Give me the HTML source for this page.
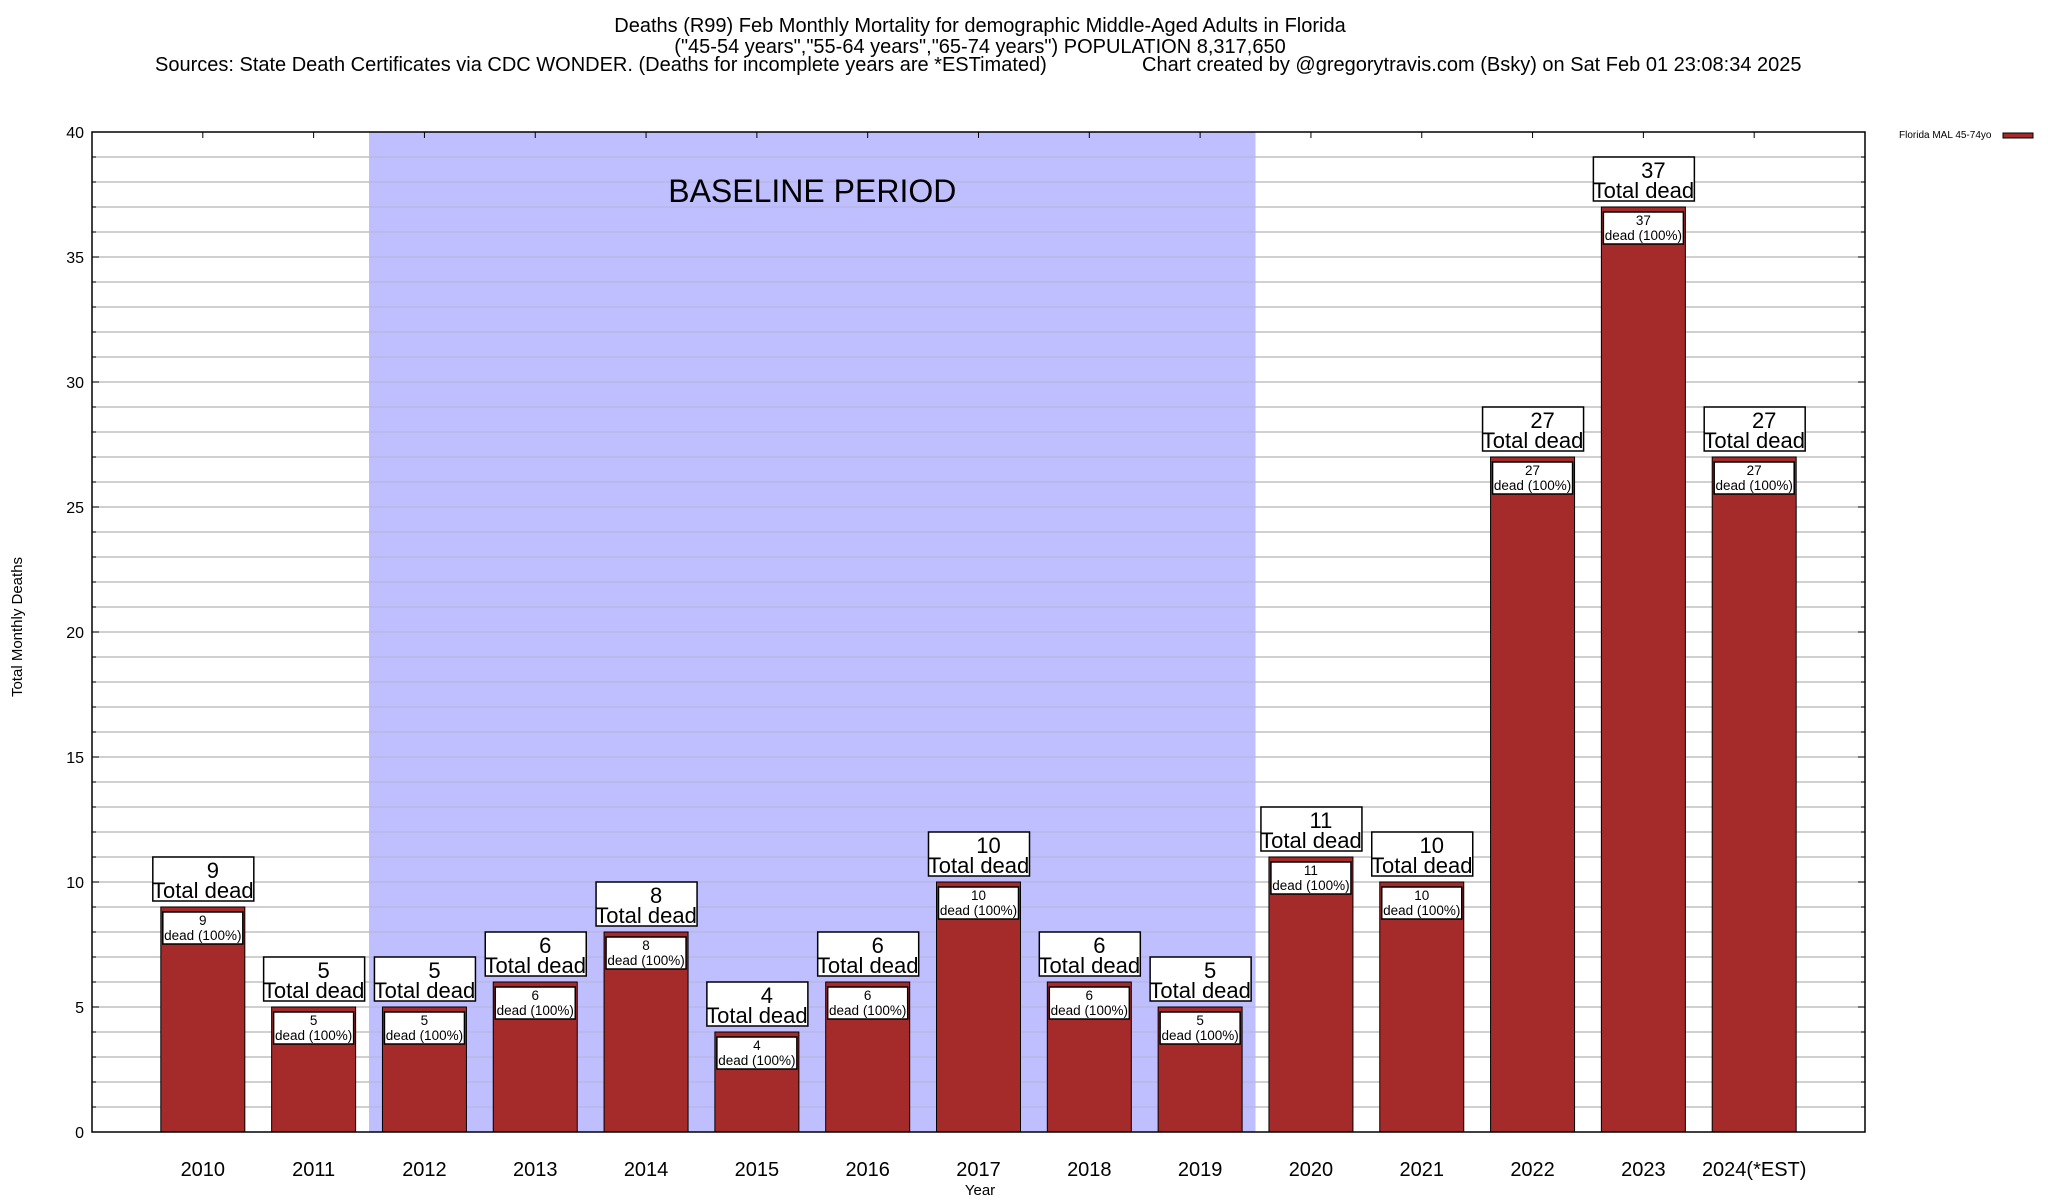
<!DOCTYPE html>
<html><head><meta charset="utf-8"><style>
html,body{margin:0;padding:0;background:#fff;}
svg{display:block;font-family:"Liberation Sans",sans-serif;}
</style></head><body>
<svg id="chart" width="2048" height="1200" viewBox="0 0 2048 1200" xmlns="http://www.w3.org/2000/svg">
<g font-size="20" fill="#000">
<text x="980" y="32" text-anchor="middle">Deaths (R99) Feb Monthly Mortality for demographic Middle-Aged Adults in Florida</text>
<text x="980" y="53" text-anchor="middle">("45-54 years","55-64 years","65-74 years") POPULATION 8,317,650</text>
<text x="155" y="71">Sources: State Death Certificates via CDC WONDER. (Deaths for incomplete years are *ESTimated)</text>
<text x="1142" y="71">Chart created by @gregorytravis.com (Bsky) on Sat Feb 01 23:08:34 2025</text>
</g>
<g id="grid"></g>
<rect id="baseline" fill="#bfbfff"/>
<g id="grid2"></g>
<text id="baselineLabel" font-size="32" text-anchor="middle">BASELINE PERIOD</text>
<g id="yaxis"></g>
<g id="bars"></g>
<g id="xaxis"></g>
<rect id="frame" fill="none" stroke="#000" stroke-width="1.5"/>
<text x="980" y="1195" font-size="15" text-anchor="middle">Year</text>
<text x="22" y="627" font-size="15" text-anchor="middle" transform="rotate(-90 22 627)">Total Monthly Deaths</text>
<g>
<text x="1899" y="138" font-size="10">Florida MAL 45-74yo</text>
<rect x="2003" y="133" width="30" height="5" fill="#a52a2a" stroke="#000" stroke-width="1"/>
</g>
</svg>
<script>
const years = ["2010","2011","2012","2013","2014","2015","2016","2017","2018","2019","2020","2021","2022","2023","2024(*EST)"];
const deaths = [9,5,5,6,8,4,6,10,6,5,11,10,27,37,27];
const yTicks = [0,5,10,15,20,25,30,35,40];
const baselineStart = 2; // index 2012
const baselineEnd = 9;   // index 2019

const NS="http://www.w3.org/2000/svg";
const L=92,R=1865,T=132,B=1132,yMax=40;
const slot=(R-L)/(years.length+1);
function X(i){return L+slot*(i+1);}
function Y(v){return B-(B-T)*v/yMax;}
function mk(tag,attrs,parent){const e=document.createElementNS(NS,tag);for(const k in attrs)e.setAttribute(k,attrs[k]);parent.appendChild(e);return e;}

const frame=document.getElementById('frame');
frame.setAttribute('x',L);frame.setAttribute('y',T);frame.setAttribute('width',R-L);frame.setAttribute('height',B-T);

const grid=document.getElementById('grid');
for(let v=1;v<yMax;v++){
  const l=mk('line',{x1:L,x2:R,y1:Y(v),y2:Y(v),stroke:'#b4b4b4','stroke-width':1.2},grid);
  
  
}
const band=document.getElementById('baseline');
const bx0=(X(baselineStart-1)+X(baselineStart))/2, bx1=(X(baselineEnd)+X(baselineEnd+1))/2;
band.setAttribute('x',bx0);band.setAttribute('y',T);band.setAttribute('width',bx1-bx0);band.setAttribute('height',B-T);
const grid2=document.getElementById('grid2');
for(let v=1;v<yMax;v++){
  const l=mk('line',{x1:bx0,x2:bx1,y1:Y(v),y2:Y(v),stroke:'#b4b4c8','stroke-width':1.2,opacity:0.6},grid2);
  
  
}
const bl=document.getElementById('baselineLabel');
bl.setAttribute('x',(bx0+bx1)/2);bl.setAttribute('y',Y(37.2));

const ya=document.getElementById('yaxis');
yTicks.forEach(v=>{
  const t=mk('text',{x:L-8,y:Y(v)+6,'font-size':16,'text-anchor':'end'},ya);t.textContent=v;
  
  
});
for(let v=1;v<yMax;v++){
  mk('line',{x1:L,x2:L+(v%5?4:7),y1:Y(v),y2:Y(v),stroke:'#000','stroke-width':1},ya);
  mk('line',{x1:R,x2:R-(v%5?4:7),y1:Y(v),y2:Y(v),stroke:'#000','stroke-width':1},ya);
}

const bars=document.getElementById('bars');
const xa=document.getElementById('xaxis');
const bw=84;
deaths.forEach((d,i)=>{
  const cx=X(i), top=Y(d);
  const g=mk('g',{},bars);
  
  
  mk('rect',{x:cx-bw/2,y:top,width:bw,height:B-top,fill:'#a52a2a',stroke:'#000','stroke-width':1},g);
  const ib=mk('rect',{x:cx-bw/2+2,y:top+5,width:bw-4,height:32,fill:'#fff',stroke:'#000','stroke-width':1.5},g);
  
  
  const t1=mk('text',{x:cx,y:top+18,'font-size':13.5,'text-anchor':'middle'},g);t1.textContent=d;
  const t2=mk('text',{x:cx,y:top+33,'font-size':13.5,'text-anchor':'middle'},g);t2.textContent='dead (100%)';
  const ob=mk('rect',{x:cx-50,y:top-50,width:101,height:44,fill:'#fff',stroke:'#000','stroke-width':1.5},g);
  
  
  const t3=mk('text',{x:cx+10,y:top-29,'font-size':22,'text-anchor':'middle'},g);t3.textContent=d;
  const t4=mk('text',{x:cx,y:top-9,'font-size':22,'text-anchor':'middle'},g);t4.textContent='Total dead';
  const xl=mk('text',{x:cx,y:1176,'font-size':20,'text-anchor':'middle'},xa);xl.textContent=years[i];
  
  
  mk('line',{x1:cx,x2:cx,y1:T,y2:T+6,stroke:'#000','stroke-width':1},xa);
});
</script>
</body></html>
